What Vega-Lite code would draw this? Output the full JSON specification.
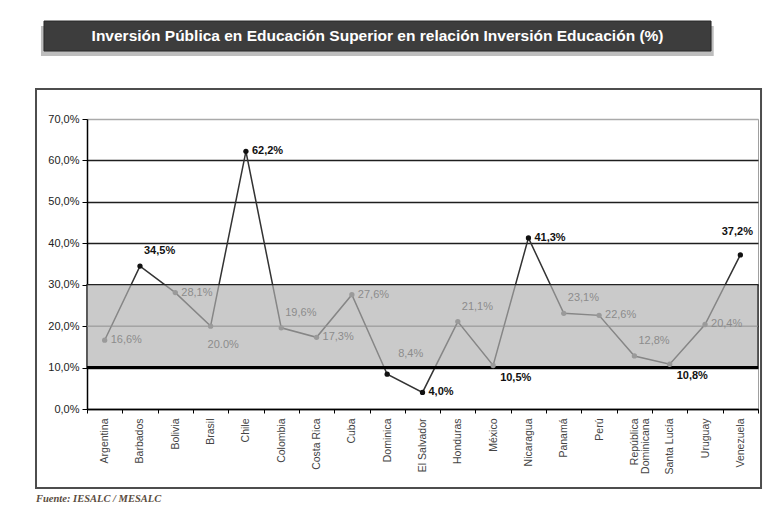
{
  "$schema": "https://vega.github.io/schema/vega-lite/v6.json",
  "width": 671,
  "height": 290,
  "padding": {"left": 35, "top": 20, "right": 4, "bottom": 2},
  "background": "white",
  "data": {
    "values": [
      {"pais": "Argentina", "valor": 16.6},
      {"pais": "Barbados", "valor": 34.5},
      {"pais": "Bolivia", "valor": 28.1},
      {"pais": "Brasil", "valor": 20.0},
      {"pais": "Chile", "valor": 62.2},
      {"pais": "Colombia", "valor": 19.6},
      {"pais": "Costa Rica", "valor": 17.3},
      {"pais": "Cuba", "valor": 27.6},
      {"pais": "Dominica", "valor": 8.4},
      {"pais": "El Salvador", "valor": 4.0},
      {"pais": "Honduras", "valor": 21.1},
      {"pais": "México", "valor": 10.5},
      {"pais": "Nicaragua", "valor": 41.3},
      {"pais": "Panamá", "valor": 23.1},
      {"pais": "Perú", "valor": 22.6},
      {"pais": "República Dominicana", "valor": 12.8},
      {"pais": "Santa Lucía", "valor": 10.8},
      {"pais": "Uruguay", "valor": 20.4},
      {"pais": "Venezuela", "valor": 37.2}
    ]
  },
  "layer": [
    {
      "data": {"values": [{}]},
      "mark": {"type": "rect", "fill": "transparent", "stroke": "#4d4d4d", "strokeWidth": 2},
      "encoding": {
        "x": {"datum": -0.076, "type": "quantitative", "scale": {"domain": [0, 1]}, "axis": null},
        "x2": {"datum": 1.0045},
        "y": {"datum": 77.24, "type": "quantitative", "scale": {"domain": [0, 70]}},
        "y2": {"datum": -19.07}
      }
    },
    {
      "data": {"values": [{}]},
      "mark": {"type": "rect", "fill": "#bdbdbd"},
      "encoding": {
        "x": {"datum": -0.0686, "type": "quantitative", "scale": {"domain": [0, 1]}, "axis": null},
        "x2": {"datum": 0.934},
        "y": {"datum": 92.45, "type": "quantitative", "scale": {"domain": [0, 70]}},
        "y2": {"datum": 85.21}
      }
    },
    {
      "data": {"values": [{}]},
      "mark": {"type": "rect", "fill": "#3d3d3d", "stroke": "#2a2a2a", "strokeWidth": 1},
      "encoding": {
        "x": {"datum": -0.0641, "type": "quantitative", "scale": {"domain": [0, 1]}, "axis": null},
        "x2": {"datum": 0.93},
        "y": {"datum": 93.65, "type": "quantitative", "scale": {"domain": [0, 70]}},
        "y2": {"datum": 86.41}
      }
    },
    {
      "data": {"values": [{}]},
      "mark": {"type": "text", "text": "Inversión Pública en Educación Superior en relación Inversión Educación (%)", "color": "white", "font": "Liberation Sans", "fontSize": 15.5, "fontWeight": "bold", "align": "center", "baseline": "middle"},
      "encoding": {
        "x": {"datum": 0.433, "type": "quantitative", "scale": {"domain": [0, 1]}, "axis": null},
        "y": {"datum": 90.03, "type": "quantitative", "scale": {"domain": [0, 70]}}
      }
    },
    {
      "data": {"values": [{}]},
      "mark": {"type": "text", "text": "Fuente: IESALC / MESALC", "color": "#5a4c40", "font": "Liberation Serif", "fontSize": 10.5, "fontWeight": "bold", "fontStyle": "italic", "align": "left", "baseline": "middle"},
      "encoding": {
        "x": {"datum": -0.076, "type": "quantitative", "scale": {"domain": [0, 1]}, "axis": null},
        "y": {"datum": -21.7, "type": "quantitative", "scale": {"domain": [0, 70]}}
      }
    },
    {
      "data": {"values": [{}]},
      "mark": {"type": "rect", "fill": "#cbcbcb"},
      "encoding": {
        "x": {"datum": 0, "type": "quantitative", "scale": {"domain": [0, 1]}, "axis": null},
        "x2": {"datum": 1},
        "y": {"datum": 10, "type": "quantitative", "scale": {"domain": [0, 70]}},
        "y2": {"datum": 30}
      }
    },
    {
      "mark": {"type": "line", "color": "#333333", "strokeWidth": 1.5},
      "encoding": {
        "x": {
          "field": "pais", "type": "nominal", "sort": null,
          "scale": {"type": "band", "paddingInner": 0, "paddingOuter": 0},
          "axis": {
            "title": null, "domainColor": "#000000", "domainWidth": 1.5,
            "tickColor": "#000000", "tickSize": 4, "tickBand": "extent",
            "labelAngle": -90, "labelColor": "#444444", "labelFontSize": 10.5,
            "labelFont": "Liberation Sans", "labelPadding": 5, "labelLineHeight": 11,
            "labelExpr": "datum.value == 'República Dominicana' ? ['República', 'Dominicana'] : datum.value"
          }
        },
        "y": {
          "field": "valor", "type": "quantitative",
          "scale": {"domain": [0, 70], "nice": false},
          "axis": {
            "title": null, "values": [0, 10, 20, 30, 40, 50, 60, 70],
            "labelExpr": "replace(format(datum.value, '.1f'), '.', ',') + '%'",
            "domainColor": "#000000", "domainWidth": 1.5,
            "tickColor": "#000000", "tickSize": 5,
            "labelFont": "Liberation Sans", "labelFontSize": 11, "labelColor": "#222222", "labelPadding": 3,
            "grid": true,
            "gridColor": {"condition": {"test": "datum.value == 70", "value": "#aaaaaa"}, "value": "#1e1e1e"},
            "gridWidth": 1.5
          }
        }
      }
    },
    {
      "data": {"values": [{}]},
      "mark": {"type": "rect", "fill": "#cbcbcb", "fillOpacity": 0.55, "stroke": "#222222", "strokeWidth": 1.3},
      "encoding": {
        "x": {"datum": 0, "type": "quantitative", "scale": {"domain": [0, 1]}, "axis": null},
        "x2": {"datum": 1},
        "y": {"datum": 10, "type": "quantitative", "scale": {"domain": [0, 70]}},
        "y2": {"datum": 30}
      }
    },
    {
      "data": {"values": [{}]},
      "mark": {"type": "rule", "color": "#8f8f8f", "strokeWidth": 1},
      "encoding": {
        "y": {"datum": 20, "type": "quantitative", "scale": {"domain": [0, 70]}}
      }
    },
    {
      "data": {"values": [{}]},
      "mark": {"type": "rule", "color": "#000000", "strokeWidth": 3},
      "encoding": {
        "y": {"datum": 10, "type": "quantitative", "scale": {"domain": [0, 70]}}
      }
    },
    {
      "mark": {"type": "point", "filled": true, "size": 28, "opacity": 1},
      "encoding": {
        "x": {"field": "pais", "type": "nominal", "sort": null, "scale": {"type": "band", "paddingInner": 0, "paddingOuter": 0}, "axis": null},
        "y": {"field": "valor", "type": "quantitative", "scale": {"domain": [0, 70]}, "title": null},
        "color": {"condition": {"test": "datum.valor < 10 || datum.valor > 30", "value": "#111111"}, "value": "#9a9a9a"}
      }
    },
    {
      "mark": {
        "type": "text", "baseline": "middle", "font": "Liberation Sans", "fontSize": 11,
        "align": {"expr": "datum.pais == 'Venezuela' ? 'center' : 'left'"},
        "dx": {"expr": "datum.pais == 'Dominica' ? 11 : indexof(['Barbados','Colombia','Honduras','Panamá','República Dominicana'], datum.pais) >= 0 ? 4 : indexof(['México','Santa Lucía'], datum.pais) >= 0 ? 7 : (datum.pais == 'Brasil' || datum.pais == 'Venezuela') ? -3 : 6"},
        "dy": {"expr": "datum.pais == 'Dominica' ? -20 : indexof(['Barbados','Colombia','Honduras','Panamá','República Dominicana'], datum.pais) >= 0 ? -15 : indexof(['México','Santa Lucía'], datum.pais) >= 0 ? 12 : datum.pais == 'Brasil' ? 19 : datum.pais == 'Venezuela' ? -23 : 0"},
        "text": {"expr": "datum.pais == 'Brasil' ? format(datum.valor, '.1f') + '%' : replace(format(datum.valor, '.1f'), '.', ',') + '%'"},
        "fontWeight": {"expr": "indexof(['Barbados','Chile','El Salvador','México','Nicaragua','Santa Lucía','Venezuela'], datum.pais) >= 0 ? 'bold' : 'normal'"}
      },
      "encoding": {
        "x": {"field": "pais", "type": "nominal", "sort": null, "scale": {"type": "band", "paddingInner": 0, "paddingOuter": 0}, "axis": null},
        "y": {"field": "valor", "type": "quantitative", "scale": {"domain": [0, 70]}, "title": null},
        "color": {"condition": {"test": "indexof(['Barbados','Chile','El Salvador','México','Nicaragua','Santa Lucía','Venezuela'], datum.pais) >= 0", "value": "#111111"}, "value": "#8c8c8c"}
      }
    }
  ],
  "resolve": {"scale": {"x": "independent"}},
  "config": {
    "view": {"stroke": "#a0a0a0", "strokeWidth": 1},
    "font": "Liberation Sans"
  }
}
